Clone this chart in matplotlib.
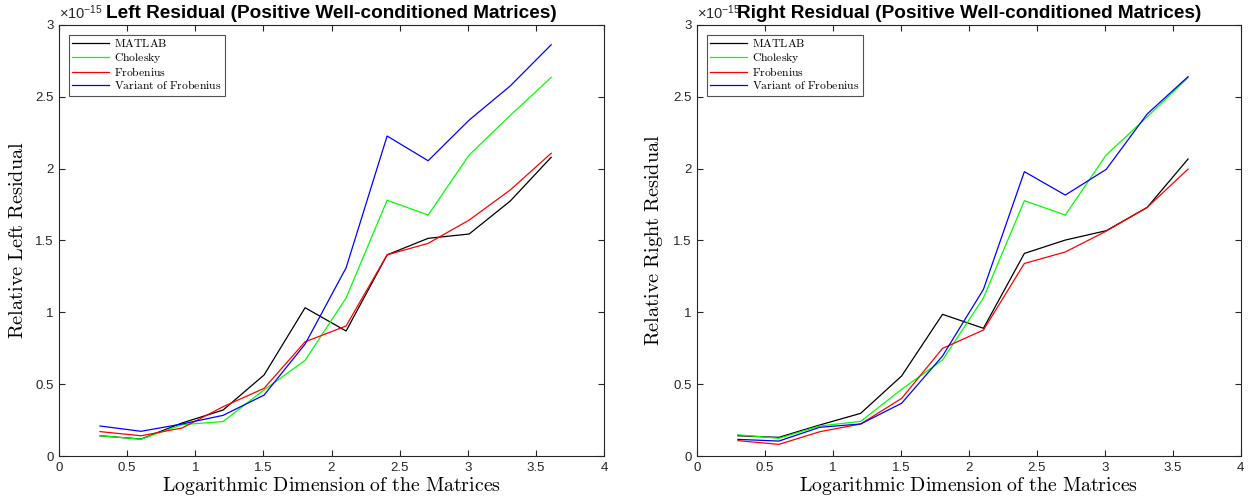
import numpy as np
import matplotlib
matplotlib.use("Agg")
import matplotlib.pyplot as plt

plt.rcParams['mathtext.fontset'] = 'cm'
plt.rcParams['font.family'] = ['Liberation Sans', 'DejaVu Sans']

# log10 of the matrix dimensions 2, 4, ..., 4096
log_dim = np.log10(2.0 ** np.arange(1, 13))

# residuals in units of 1e-15
left_matlab = [0.141, 0.118, 0.23, 0.32, 0.564, 1.032, 0.87, 1.40, 1.515, 1.545, 1.774, 2.079]
left_chol = [0.141, 0.117, 0.218, 0.24, 0.46, 0.666, 1.10, 1.78, 1.677, 2.095, 2.37, 2.635]
left_frob = [0.17, 0.141, 0.195, 0.343, 0.471, 0.795, 0.905, 1.40, 1.48, 1.642, 1.851, 2.107]
left_var = [0.209, 0.172, 0.223, 0.283, 0.424, 0.779, 1.31, 2.227, 2.055, 2.338, 2.575, 2.862]

right_matlab = [0.141, 0.13, 0.216, 0.297, 0.557, 0.986, 0.889, 1.41, 1.503, 1.568, 1.73, 2.067]
right_chol = [0.148, 0.123, 0.209, 0.241, 0.464, 0.668, 1.10, 1.777, 1.677, 2.095, 2.36, 2.633]
right_frob = [0.107, 0.081, 0.169, 0.223, 0.401, 0.749, 0.877, 1.34, 1.42, 1.565, 1.73, 1.997]
right_var = [0.116, 0.104, 0.2, 0.223, 0.367, 0.696, 1.16, 1.979, 1.816, 1.995, 2.38, 2.64]

names = ['MATLAB', 'Cholesky', 'Frobenius', 'Variant of Frobenius']
colors = ['black', '#00ff00', 'red', 'blue']

panels = [
    ('Left Residual (Positive Well-conditioned Matrices)', 'Relative Left Residual',
     [left_matlab, left_chol, left_frob, left_var], [0.0472, 0.0934, 0.436, 0.857]),
    ('Right Residual (Positive Well-conditioned Matrices)', 'Relative Right Residual',
     [right_matlab, right_chol, right_frob, right_var], [0.5576, 0.0934, 0.435, 0.857]),
]


def tex(s):
    return r'$\mathrm{' + s.replace(' ', r'\ ') + '}$'


fig = plt.figure(figsize=(12.5, 5.03), dpi=100)
axcol = '#262626'

for title, ylab, series, rect in panels:
    ax = fig.add_axes(rect)
    for vals, name, c in zip(series, names, colors):
        ax.plot(log_dim, vals, color=c, lw=0.9, label=tex(name))
    ax.set_xlim(0, 4)
    ax.set_ylim(0, 3)
    ax.set_xticks(np.arange(0, 4.01, 0.5))
    ax.set_yticks(np.arange(0, 3.01, 0.5))
    ax.set_xticklabels(['0', '0.5', '1', '1.5', '2', '2.5', '3', '3.5', '4'])
    ax.set_yticklabels(['0', '0.5', '1', '1.5', '2', '2.5', '3'])
    ax.tick_params(direction='in', top=True, right=True, length=4, width=0.8,
                   labelsize=9.5, colors=axcol, labelcolor=axcol, pad=4)
    for sp in ax.spines.values():
        sp.set_color(axcol)
        sp.set_linewidth(0.8)
    ax.set_title(title, fontsize=13.7, fontweight='bold', pad=5)
    ax.set_xlabel(tex('Logarithmic Dimension of the Matrices'), fontsize=14.3, labelpad=1)
    ax.set_ylabel(tex(ylab), fontsize=14.6, labelpad=6)
    ax.text(0.0, 1.006, r'$\mathdefault{\times10^{-15}}$', transform=ax.transAxes,
            fontsize=10.5, color=axcol, va='bottom', ha='left')
    leg = ax.legend(loc='upper left', fontsize=8.4, frameon=True, fancybox=False,
                    edgecolor=axcol, handlelength=3.1, borderpad=0.3,
                    labelspacing=0.06, handletextpad=0.45, borderaxespad=0.85)
    leg.get_frame().set_linewidth(0.8)

fig.savefig('out.png', dpi=100)
